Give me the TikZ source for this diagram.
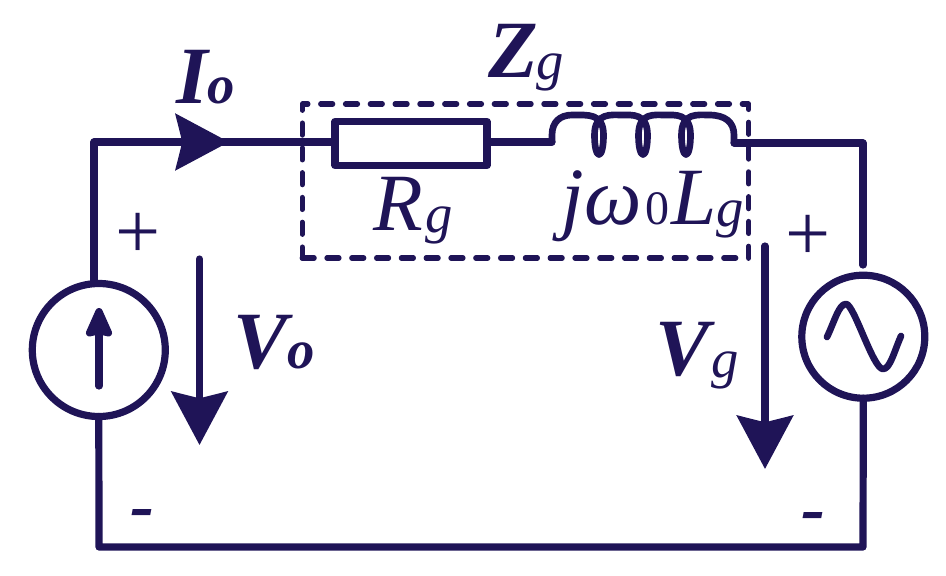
\documentclass[tikz,border=0pt]{standalone}
\usepackage{fontspec}
\setmainfont{Liberation Serif}
\usetikzlibrary{arrows.meta}
\definecolor{wireblue}{RGB}{31,20,87}
\newcommand{\bigfont}{\fontsize{61}{61}\selectfont}
\newcommand{\midfont}{\fontsize{41}{41}\selectfont}
\newcommand{\subfont}{\fontsize{36}{36}\selectfont}
\newcommand{\lowg}{\raisebox{-2pt}{\midfont\mdseries\itshape g}}

\begin{document}
\begin{tikzpicture}[%
	x=0.75pt,y=-0.75pt,
	every node/.style = {text=wireblue,inner sep=0pt,outer sep=0pt},
	every path/.style = {color=wireblue},
	wire/.style={draw,line width=5.4pt,line join=round,line cap=round},
	elem/.style={shape=rectangle,draw,line width=5.4pt,line join=round,minimum width=114pt,minimum height=33pt},
	source/.style={shape=circle,draw,line width=5.4pt},
	dashbox/.style={shape=rectangle,draw,line width=3.9pt,line cap=round,line join=round,dash pattern=on 9pt off 9.6pt,minimum width=335pt,minimum height=115.5pt},
	label/.style={anchor=base west},
	sign/.style={anchor=center},
	bigarrow/.style={wire,line cap=butt,-{Stealth[length=40pt,width=42pt,inset=5pt]}}
	]
  \useasboundingbox (0,0) rectangle (946,575);
  \node [dashbox] (Zbox) at (525.5,181) {};
  \node [elem] (Rg) at (411,143.5) {};
  \node [source,minimum size=99.75pt] (srcI) at (98.8,350) {};
  \node [source,minimum size=92.25pt] (srcV) at (863.3,336.7) {};
  \coordinate (topleft) at (94,142);
  \coordinate (topright) at (863,143);
  \coordinate (rightend) at (863,265);
  \coordinate (botleft) at (99,547);
  \coordinate (botright) at (863,547);
  \coordinate (Lin) at (552,142);
  \coordinate (Lout) at (734,143);
  \coordinate (Itip) at (229,142);
  \coordinate (Vostart) at (199.5,259);
  \coordinate (Votip) at (199.5,445);
  \coordinate (Vgstart) at (765,246);
  \coordinate (Vgtip) at (765,469);
  \coordinate (srcIa) at (99,386);
  \coordinate (srcIb) at (99,308);
  % wires
  \draw [wire] (topleft |- srcI.north) -- (topleft) -- (Rg.west |- topleft);
  \draw [wire] (Rg.east |- Lin) -- (Lin);
  \draw [wire] (Lout) -- (topright) -- (rightend);
  \draw [wire] (srcI.south) -- (botleft) -- (botright) -- (srcV.south);
  % inductor
  \draw [wire,line width=5pt] (Lin) -- (552,135) .. controls (552,122) and (560,115) .. (572,115)
    .. controls (588,115) and (603.5,113) .. (603.5,135) .. controls (603.5,161) and (594.5,161) .. (594.5,135)
    .. controls (594.5,112) and (612,115) .. (622,115) .. controls (632,115) and (647.5,113) .. (647.5,135)
    .. controls (647.5,161) and (638.5,161) .. (638.5,135) .. controls (638.5,112) and (655,115) .. (665,115)
    .. controls (675,115) and (690.5,113) .. (690.5,135) .. controls (690.5,161) and (681.5,161) .. (681.5,135)
    .. controls (681.5,112) and (698,115) .. (709,115) .. controls (725,115) and (734,122) .. (734,135) -- (Lout);
  % arrows
  \draw [bigarrow] (topleft) -- (Itip);
  \draw [bigarrow,line cap=round] (Vostart) -- (Votip);
  \draw [bigarrow,line cap=round] (Vgstart) -- (Vgtip);
  \draw [wire,-{Stealth[round,length=26pt,width=22pt,inset=2pt]}] (srcIa) -- (srcIb);
  \draw [wire,line width=5pt] (827,337) .. controls (835,320) and (839,304) .. (846,304)
    .. controls (854,304) and (873,369) .. (883,369) .. controls (890,369) and (894,352) .. (901,336);
  % labels
  \node [label] (Io) at (176,103) {\bigfont\bfseries\itshape I\midfont o};
  \node [label] (Zg) at (488,77) {\bigfont\bfseries\itshape Z\kern-1pt\lowg};
  \node [label] (RgL) at (373,230) {\bigfont\itshape R\kern2pt\lowg};
  \node [label] (LgL) at (561,224) {\bigfont\itshape j\kern1pt ω\kern2.5pt\subfont\upshape 0\kern1pt\bigfont\itshape L\lowg};
  \node [label] (Vo) at (233,368) {\bigfont\bfseries\itshape V\midfont o};
  \node [label] (Vg) at (655,375) {\bigfont\bfseries\itshape V\kern2pt\lowg};
  \node [sign] (plusI) at (138,236) {\fontsize{60}{60}\selectfont +};
  \node [sign] (plusV) at (808,238) {\fontsize{60}{60}\selectfont +};
  \node [sign] (minusI) at (142,519) {\fontsize{54}{54}\selectfont\bfseries\itshape -};
  \node [sign] (minusV) at (813,522) {\fontsize{54}{54}\selectfont\bfseries\itshape -};
\end{tikzpicture}
\end{document}
